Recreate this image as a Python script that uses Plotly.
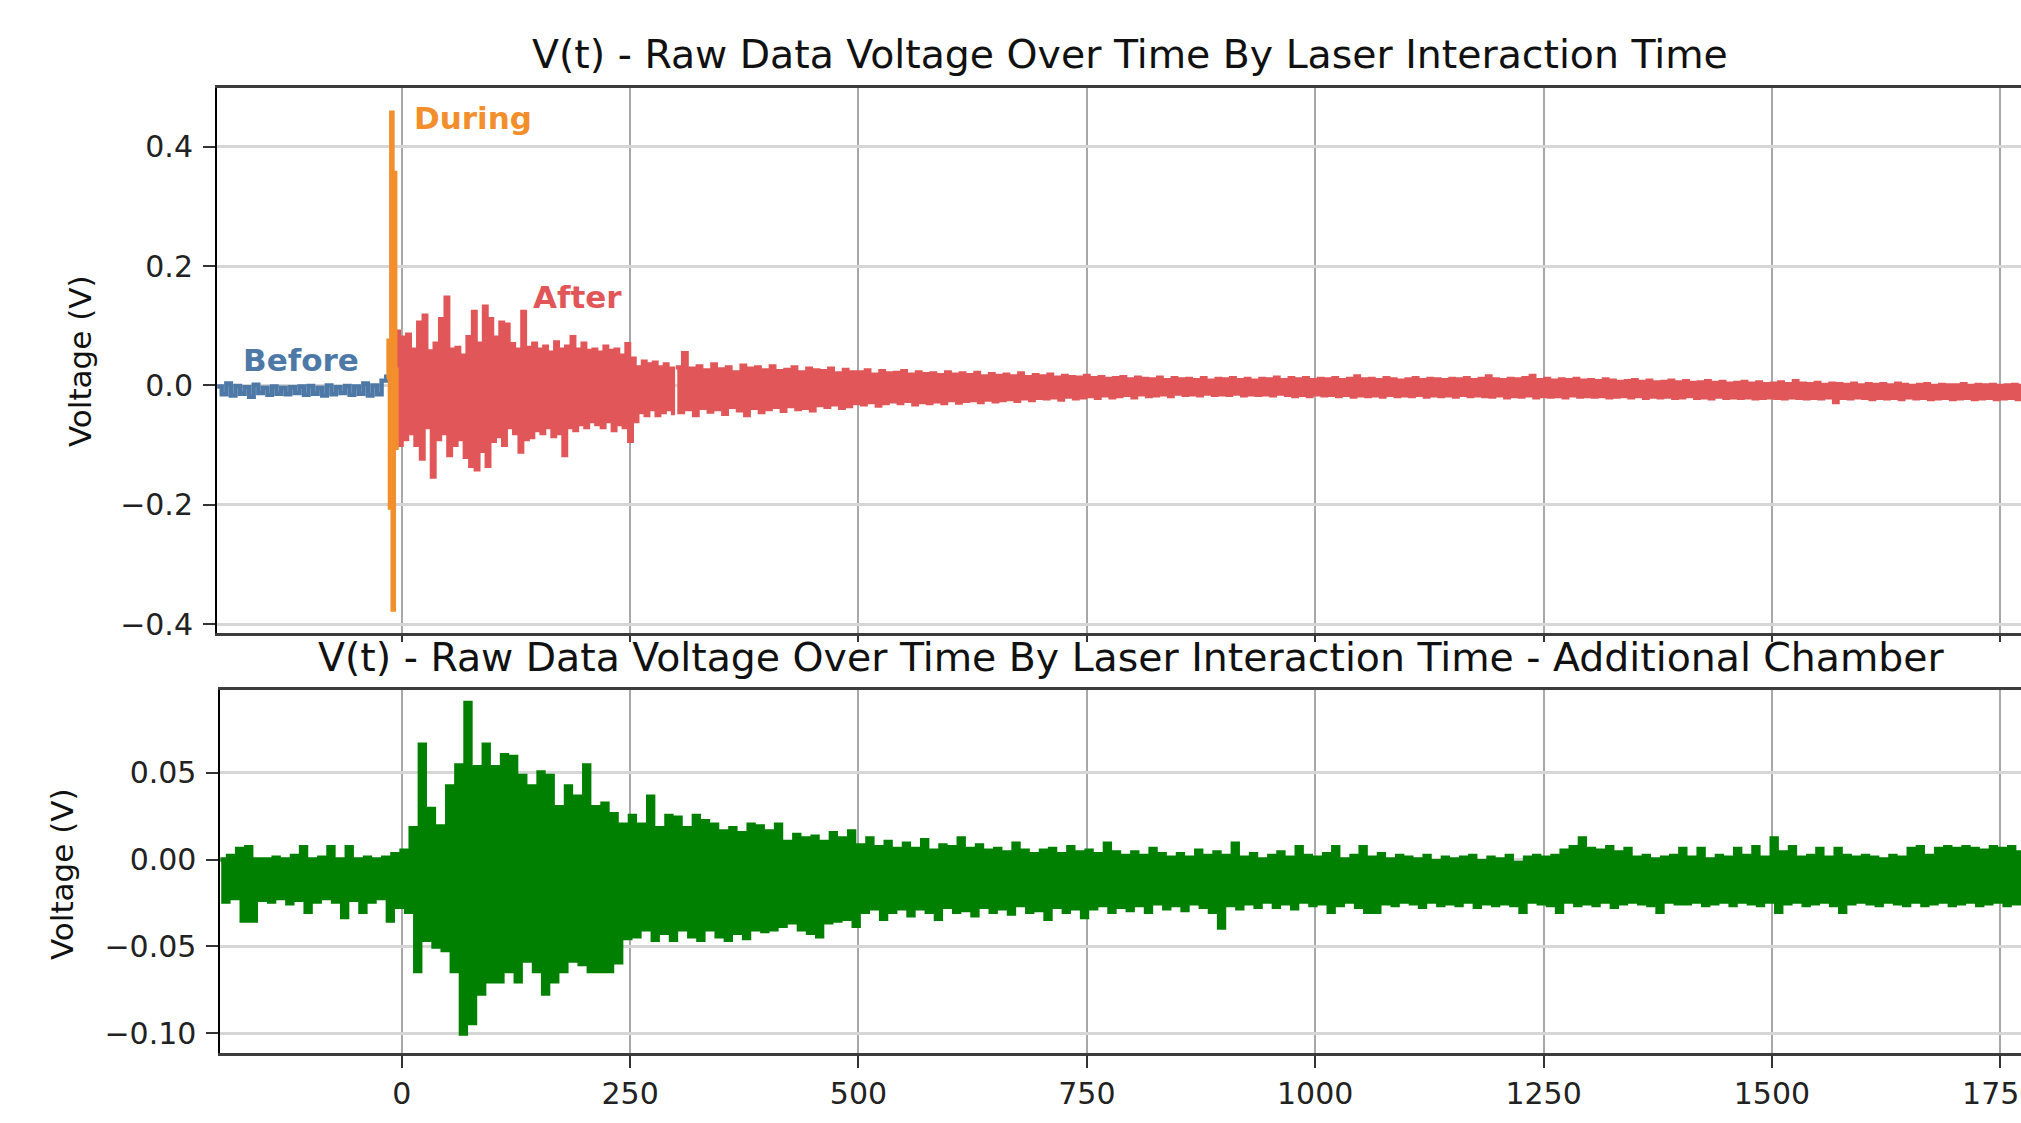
import plotly.graph_objects as go

# ---------------- data ----------------
# Top panel: voltage traces split by laser interaction phase
before_t0, before_dt = -202, 5
before_v = [-.002, -.015, .003, -.017, -.001, -.014, -.003, -.019, .001, -.013,
            -.004, -.016, -.002, -.014, -.004, -.015, -.003, -.013, -.002, -.016,
            -.001, -.014, -.004, -.017, .0, -.015, -.003, -.013, -.001, -.016,
            -.002, -.014, .003, -.017, .0, -.015, .008, .018]

during_t0, during_dt = -16, 1.5
during_v = [.012, .075, -.205, .457, -.376, .356, -.105, .03]

after_burst_t0, after_burst_dt = -6, 3
after_burst_v = [.09, -.10, .08, -.09, .085, -.08, .06, -.10, .105, -.123,
                 .117, -.07, .057, -.153, .07, -.09, .111, -.08, .147, -.117,
                 .06, -.1, .063, -.09, .05, -.12, .081, -.135, .123, -.141,
                 .07, -.11, .132, -.135, .111, -.093, .08, -.085, .105, -.1,
                 .102, -.07, .069, -.08, .06, -.111, .123, -.09, .063, -.087,
                 .07, -.075, .06, -.08, .065, -.07, .055, -.085, .072, -.08,
                 .06, -.117, .065, -.07, .081, -.075, .06, -.065, .07, -.07,
                 .058, -.06, .06, -.065, .055, -.07, .065, -.06, .058, -.075,
                 .06, -.065, .05, -.07, .069, -.093, .045, -.06, .03, -.045,
                 .04, -.05, .035, -.04, .038, -.05, .03, -.045, .035, -.04,
                 .028, -.05]

after_tail_t0, after_tail_dt = 300, 4
after_tail_v = [.03, -.045, .054, -.04, .028, -.05, .032, -.038, .025, -.044,
                .035, -.04, .027, -.048, .03, -.036, .022, -.042, .033, -.05,
                .028, -.038, .03, -.045, .025, -.04, .032, -.036, .024, -.043,
                .026, -.035, .03, -.04, .022, -.038, .028, -.042, .025, -.033,
                .024, -.036, .028, -.032, .02, -.038, .026, -.035, .022, -.03,
                .022, -.032, .025, -.028, .018, -.034, .024, -.03, .02, -.027,
                .021, -.03, .024, -.026, .018, -.032, .022, -.028, .019, -.03,
                .02, -.027, .017, -.03, .022, -.025, .018, -.029, .02, -.026,
                .017, -.025, .021, -.028, .015, -.024, .019, -.027, .016, -.025,
                .018, -.023, .015, -.026, .02, -.022, .014, -.025, .017, -.021,
                .015, -.022, .018, -.02, .013, -.024, .016, -.019, .014, -.022,
                .013, -.02, .016, -.018, .012, -.021, .014, -.017, .011, -.02,
                .012, -.018, .014, -.016, .01, -.02, .013, -.015, .011, -.018,
                .01, -.017, .013, -.015, .009, -.018, .012, -.014, .01, -.016,
                .011, -.015, .009, -.017, .012, -.014, .008, -.016, .011, -.015,
                .01, -.016, .012, -.014, .009, -.017, .011, -.015, .008, -.016,
                .011, -.015, .01, -.017, .013, -.014, .009, -.016, .012, -.018,
                .01, -.016, .012, -.018, .009, -.015, .011, -.017, .01, -.016,
                .012, -.018, .009, -.016, .011, -.019, .015, -.017, .01, -.018,
                .011, -.017, .009, -.019, .012, -.016, .01, -.018, .008, -.017,
                .01, -.018, .012, -.016, .009, -.019, .011, -.017, .01, -.018,
                .009, -.017, .011, -.019, .01, -.016, .012, -.018, .009, -.017,
                .011, -.018, .015, -.019, .01, -.017, .009, -.02, .011, -.018,
                .01, -.019, .012, -.017, .016, -.02, .009, -.018, .011, -.019,
                .008, -.018, .01, -.02, .009, -.017, .011, -.019, .008, -.018,
                .009, -.019, .007, -.018, .01, -.02, .008, -.019, .006, -.018,
                .007, -.02, .009, -.018, .006, -.021, .008, -.019, .005, -.02,
                .006, -.019, .008, -.021, .005, -.02, .007, -.018, .004, -.021,
                .005, -.02, .007, -.022, .004, -.019, .006, -.021, .003, -.02,
                .004, -.021, .006, -.02, .003, -.022, .005, -.021, .002, -.02,
                .003, -.021, .005, -.022, .002, -.02, .007, -.021, .003, -.022,
                .002, -.021, .004, -.022, .001, -.02, .003, -.028, .002, -.021,
                .001, -.022, .003, -.02, .0, -.021, .002, -.023, .001, -.021,
                .002, -.022, .0, -.021, .003, -.023, .001, -.02, -.001, -.022,
                .001, -.021, .002, -.023, -.001, -.022, .001, -.021, .0, -.023,
                .0, -.022, .002, -.021, -.001, -.023, .001, -.022, .0, -.021,
                .001, -.023, -.001, -.022, .0, -.021, .001, -.023, -.001, -.022]

# Bottom panel: additional chamber voltage
chamber_t0, chamber_dt = -200, 5
chamber_v = [.0, -.024, .002, -.022, .006, -.035, .007, -.035, .0, -.023,
             .0, -.024, .001, -.022, .0, -.025, .002, -.023, .007, -.03,
             .0, -.024, .001, -.022, .007, -.024, .0, -.033, .007, -.023,
             .0, -.03, .001, -.024, .0, -.022, .001, -.035, .003, -.027,
             .005, -.03, .018, -.064, .066, -.046, .029, -.05, .019, -.052,
             .042, -.064, .054, -.1, .09, -.094, .053, -.077, .066, -.07,
             .053, -.07, .06, -.064, .059, -.07, .048, -.058, .042, -.064,
             .05, -.077, .048, -.07, .03, -.064, .042, -.058, .036, -.06,
             .054, -.064, .03, -.064, .032, -.064, .026, -.059, .02, -.045,
             .025, -.044, .02, -.04, .036, -.046, .018, -.042, .025, -.046,
             .024, -.04, .018, -.044, .025, -.046, .022, -.04, .02, -.044,
             .016, -.046, .018, -.042, .015, -.045, .02, -.04, .019, -.041,
             .016, -.04, .02, -.038, .01, -.036, .014, -.04, .012, -.042,
             .013, -.044, .01, -.036, .015, -.035, .012, -.034, .016, -.038,
             .008, -.03, .012, -.028, .007, -.034, .01, -.03, .006, -.028,
             .009, -.032, .006, -.028, .011, -.03, .005, -.034, .008, -.027,
             .007, -.03, .012, -.029, .006, -.032, .008, -.027, .005, -.03,
             .006, -.028, .004, -.031, .009, -.026, .005, -.03, .003, -.029,
             .005, -.034, .006, -.027, .003, -.03, .007, -.028, .004, -.033,
             .005, -.028, .003, -.026, .009, -.03, .004, -.027, .002, -.029,
             .004, -.026, .002, -.03, .006, -.025, .003, -.028, .001, -.026,
             .003, -.029, .001, -.025, .005, -.027, .002, -.03, .004, -.039,
             .002, -.026, .009, -.028, .001, -.025, .003, -.027, .0, -.024,
             .002, -.027, .004, -.025, .001, -.028, .007, -.024, .002, -.026,
             .001, -.025, .003, -.03, .007, -.026, .0, -.024, .002, -.027,
             .007, -.03, .001, -.03, .003, -.025, .0, -.026, .002, -.024,
             .001, -.025, .0, -.027, .002, -.024, -.001, -.026, .001, -.025,
             .0, -.026, .001, -.024, .002, -.027, -.001, -.025, .001, -.026,
             .0, -.025, .002, -.026, -.002, -.03, .001, -.024, .002, -.025,
             .001, -.026, .002, -.03, .005, -.024, .007, -.026, .012, -.025,
             .006, -.026, .005, -.024, .007, -.027, .004, -.025, .006, -.024,
             .001, -.025, .002, -.026, .0, -.03, .001, -.024, .002, -.025,
             .006, -.025, .001, -.024, .006, -.026, .0, -.025, .002, -.024,
             .001, -.026, .006, -.024, .002, -.025, .007, -.026, .001, -.024,
             .012, -.03, .004, -.025, .007, -.024, .001, -.026, .002, -.025,
             .006, -.024, .001, -.026, .006, -.03, .002, -.025, .001, -.024,
             .002, -.025, .001, -.026, .0, -.024, .002, -.025, .001, -.026,
             .006, -.024, .007, -.026, .002, -.025, .006, -.024, .007, -.026,
             .006, -.025, .007, -.024, .006, -.026, .005, -.025, .007, -.024,
             .006, -.026, .007, -.025, .004, -.024, .006, -.026, .005, -.025]

# Tick labels
x_ticks = [0, 250, 500, 750, 1000, 1250, 1500, 1750]
x_tick_text = ["0", "250", "500", "750", "1000", "1250", "1500", "1750"]
top_y_ticks = [-0.4, -0.2, 0.0, 0.2, 0.4]
top_y_text = ["\u22120.4", "\u22120.2", "0.0", "0.2", "0.4"]
bot_y_ticks = [-0.10, -0.05, 0.0, 0.05]
bot_y_text = ["\u22120.10", "\u22120.05", "0.00", "0.05"]

# ---------------- styling ----------------
FONT = "DejaVu Sans"
C_BEFORE = "#4e79a7"
C_DURING = "#f28e2b"
C_AFTER = "#e15759"
C_CHAMBER = "#008000"
W, H = 2021, 1123
ML = 217

fig = go.Figure()
def add_series(t0, dt, v, color, width, name, xa, ya):
    fig.add_trace(go.Scatter(x0=t0, dx=dt, y=v, mode="lines", name=name,
                             line=dict(color=color, width=width, shape="hv", simplify=False),
                             xaxis=xa, yaxis=ya))

add_series(before_t0, before_dt, before_v, C_BEFORE, 4.4, "Before", "x", "y")
add_series(after_burst_t0, after_burst_dt, after_burst_v, C_AFTER, 4.2, "After", "x", "y")
add_series(after_tail_t0, after_tail_dt, after_tail_v, C_AFTER, 4.2, "After", "x", "y")
add_series(during_t0, during_dt, during_v, C_DURING, 4.2, "During", "x", "y")
add_series(chamber_t0, chamber_dt, chamber_v, C_CHAMBER, 4.8, "Chamber", "x2", "y2")

tickfont = dict(family=FONT, size=30, color="#222222")
common_x = dict(tickvals=x_ticks, ticktext=x_tick_text, ticks="outside", tickwidth=2, tickcolor="#333333",
                showgrid=True, gridcolor="#a8a8a8", gridwidth=1.5, showline=True, mirror=True,
                linecolor="#3c3c3c", linewidth=3, zeroline=False, tickfont=tickfont,
                ticklabeloverflow="allow", automargin=False)
common_y = dict(ticks="outside", ticklen=12, tickwidth=2, tickcolor="#333333",
                showgrid=True, gridcolor="#d6d6d6", gridwidth=3, showline=True, mirror=False,
                linecolor="#000000", linewidth=2, zeroline=False, tickfont=tickfont,
                ticklabelstandoff=4, automargin=False)

fig.update_layout(
    width=W, height=H,
    margin=dict(l=ML, r=0, t=0, b=0, pad=0, autoexpand=False),
    paper_bgcolor="white", plot_bgcolor="white",
    showlegend=False,
    xaxis=dict(domain=[0, 1], anchor="y", range=[-202.2, 1772.7], showticklabels=False, ticklen=6, **common_x),
    yaxis=dict(domain=[0.43606, 0.92137], anchor="x", range=[-0.4156, 0.4979],
               tickvals=top_y_ticks, ticktext=top_y_text, **common_y),
    xaxis2=dict(domain=[0.0019, 1], anchor="y2", range=[-198.5, 1772.7], ticklen=12,
                ticklabelstandoff=0, **common_x),
    yaxis2=dict(domain=[0.06207, 0.38557], anchor="x2", range=[-0.1115, 0.0976],
                tickvals=bot_y_ticks, ticktext=bot_y_text, **common_y),
)

def pw(px):
    return (px - ML) / (W - ML)

def ph(py):
    return 1 - py / H

title_font = dict(family=FONT, size=39.4, color="#111111")
label_font = dict(family=FONT, size=31, color="#111111")
ann = [
    dict(text="V(t) - Raw Data Voltage Over Time By Laser Interaction Time", x=pw(1129.5), y=ph(54),
         font=title_font),
    dict(text="V(t) - Raw Data Voltage Over Time By Laser Interaction Time - Additional Chamber",
         x=pw(1131), y=ph(657), font=title_font),
    dict(text="Voltage (V)", x=pw(80), y=ph(361), textangle=-90, font=label_font),
    dict(text="Voltage (V)", x=pw(62), y=ph(874), textangle=-90, font=label_font),
    dict(text="Time (\u03bcs)", x=pw(1131), y=ph(1143), font=label_font),
]
for a in ann:
    fig.add_annotation(xref="paper", yref="paper", xanchor="center", yanchor="middle",
                       showarrow=False, **a)

phase_labels = [("Before", -176.3, 0.0426, C_BEFORE),
                ("During", 10.9, 0.448, C_DURING),
                ("After", 141.2, 0.148, C_AFTER)]
for txt, tx, ty, col in phase_labels:
    fig.add_annotation(xref="x", yref="y", x=tx, y=ty, text="<b>" + txt + "</b>", showarrow=False,
                       xanchor="left", yanchor="middle", font=dict(family=FONT, size=31, color=col))

fig.write_html("out.html")
